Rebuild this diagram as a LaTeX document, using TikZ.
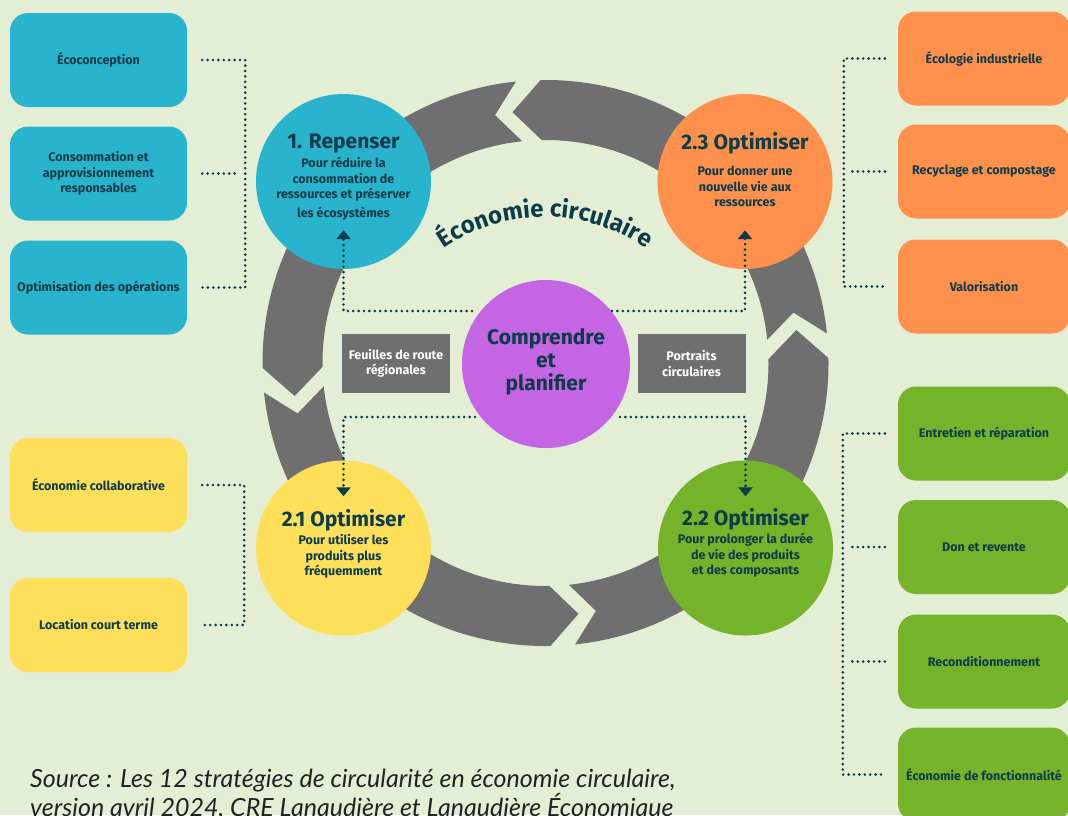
\documentclass[tikz,border=0pt]{standalone}
\usepackage{fontspec}
\setmainfont{Fira Sans}
\newfontfamily\srcfont{Lato}
\usetikzlibrary{arrows.meta,calc,decorations.text}
\definecolor{bg}{HTML}{E4EED4}
\definecolor{dark}{HTML}{0C3B49}
\definecolor{cblue}{HTML}{29B4CE}
\definecolor{corange}{HTML}{FF914D}
\definecolor{cyellow}{HTML}{FFDE59}
\definecolor{cgreen}{HTML}{74B32A}
\definecolor{cpurple}{HTML}{C466E3}
\definecolor{cgray}{HTML}{6F6F6F}
\definecolor{srccol}{HTML}{222222}
\newcommand\smalltxt{\fontsize{12.5}{15.5}\selectfont\bfseries}
\newcommand\titlefont{\fontsize{21}{23}\selectfont\bfseries}
\tikzset{
  bx/.style={rounded corners=18pt, minimum width=177pt, minimum height=94pt, inner sep=2pt, align=center, text=dark, font=\smalltxt},
  rbx/.style={bx, minimum width=172pt},
  circ/.style={circle, minimum size=175pt, inner sep=0pt},
  dotline/.style={draw=dark, line width=2.9pt, line cap=round, dash pattern=on 0pt off 5.4pt},
  arr/.style={-{Triangle[width=14pt,length=9pt]}},
  gbox/.style={fill=cgray, minimum width=108pt, minimum height=59pt, inner sep=1pt, text=white, align=center, font=\smalltxt},
  ttl/.style={font=\titlefont, text=dark, anchor=base, inner sep=0pt},
  subt/.style={font=\smalltxt, text=dark, align=center, inner sep=0pt},
}
\begin{document}
\begin{tikzpicture}[x=1pt,y=1pt]
\useasboundingbox (0,0) rectangle (1068,-815);
\clip (0,0) rectangle (1068,-815);
\fill[bg] (0,0) rectangle (1068,-815);

% ring
\coordinate (C) at (545.5,-363);
\foreach \a in {7.5,97.5,187.5,277.5}{
  \fill[cgray] ($(C)+({\a-1.5}:283)$) arc[start angle={\a-1.5}, end angle={\a+83.5}, radius=283]
    -- ($(C)+({\a+90}:253)$) -- ($(C)+({\a+83.5}:223)$)
    arc[start angle={\a+83.5}, end angle={\a-1.5}, radius=223]
    -- ($(C)+({\a+4}:253)$) -- cycle;
}

% curved title
\path[decorate, decoration={text along path, text align=center,
  text={|\color{dark}\fontsize{24}{24}\selectfont\bfseries|Économie circulaire}}]
  ($(545,-397)+(128:180)$) arc[start angle=128, end angle=52, radius=180];

% side boxes
\node[bx, fill=cblue] (b1) at (98.5,-60) {Écoconception};
\node[bx, fill=cblue] (b2) at (98.5,-173.5) {Consommation et\\approvisionnement\\responsables};
\node[bx, fill=cblue] (b3) at (98.5,-287.5) {Optimisation des opérations};
\node[bx, fill=cyellow] (y1) at (98.5,-485) {Économie collaborative};
\node[bx, fill=cyellow] (y2) at (98.5,-625) {Location court terme};
\node[rbx, fill=corange] (o1) at (984,-58.5) {Écologie industrielle};
\node[rbx, fill=corange] (o2) at (984,-171.5) {Recyclage et compostage};
\node[rbx, fill=corange] (o3) at (984,-286.5) {Valorisation};
\node[rbx, fill=cgreen] (g1) at (984,-433.5) {Entretien et réparation};
\node[rbx, fill=cgreen] (g2) at (984,-547) {Don et revente};
\node[rbx, fill=cgreen] (g3) at (984,-661.5) {Reconditionnement};
\node[rbx, fill=cgreen] (g4) at (984,-774.5) {Économie de fonctionnalité};

% brackets
\draw[dotline] ([xshift=15pt]b1.east) -| ([xshift=58pt]b3.east) -- ([xshift=15pt]b3.east);
\draw[dotline] ([xshift=15pt]b2.east) -- ([xshift=48pt]b2.east);
\draw[dotline] ([xshift=15pt]y1.east) -| ([xshift=57pt]y2.east) -- ([xshift=15pt]y2.east);
\draw[dotline] ([xshift=-13pt]o1.west) -| ([xshift=-54pt]o3.west) -- ([xshift=-13pt]o3.west);
\draw[dotline] ([xshift=-13pt]o2.west) -- ([xshift=-46pt]o2.west);
\draw[dotline] ([xshift=-13pt]g1.west) -| ([xshift=-55pt]g4.west) -- ([xshift=-13pt]g4.west);
\draw[dotline] ([xshift=-13pt]g2.west) -- ([xshift=-47pt]g2.west);
\draw[dotline] ([xshift=-13pt]g3.west) -- ([xshift=-47pt]g3.west);

% circles
\node[circ, fill=cblue] (rep) at (343.5,-181.5) {};
\node[circ, fill=corange] (o23) at (745,-181.5) {};
\node[circ, fill=cyellow] (c21) at (343.5,-548) {};
\node[circ, fill=cgreen] (c22) at (745.5,-548) {};
\node[circle, minimum size=168pt, inner sep=0pt, fill=cpurple] (cp) at (546,-364) {};

% gray boxes
\node[gbox] (fr) at (396,-363.5) {Feuilles de route\\régionales};
\node[gbox] (pc) at (691.5,-363.5) {Portraits\\circulaires};

% circle texts
\node[ttl] at (343.5,-148) {1. Repenser};
\node[subt] at (343.5,-188.5) {Pour réduire la\\consommation de\\ressources et préserver\\[3pt]les écosystèmes};
\node[ttl] at (745,-149) {2.3 Optimiser};
\node[subt] at (745,-186.5) {Pour donner une\\nouvelle vie aux\\ressources};
\node[ttl] at (343.5,-526) {2.1 Optimiser};
\node[subt] at (343.5,-556.5) {Pour utiliser les\\produits plus\\fréquemment};
\node[ttl] at (745.5,-525) {2.2 Optimiser};
\node[subt] at (745.5,-555.5) {Pour prolonger la durée\\de vie des produits\\et des composants};
\node[font=\titlefont, text=dark, align=center, inner sep=0pt] at (546,-362) {Comprendre\\et\\planifier};

% center connectors
\coordinate (pTL) at ($(cp)+(-74,53)$);
\coordinate (pTR) at ($(cp)+(66,53)$);
\coordinate (pBL) at ($(cp)+(-71,-53)$);
\coordinate (pBR) at ($(cp)+(74,-53)$);
\draw[dotline, arr] (pTL) -| ([yshift=39pt]rep.south);
\draw[dotline, arr] (pTR) -| ([yshift=39pt]o23.south);
\draw[dotline, arr] (pBL) -| ([yshift=-36pt]c21.north);
\draw[dotline, arr] (pBR) -| ([yshift=-36pt]c22.north);

% source
\node[anchor=north west, inner sep=0pt, align=left, text=srccol,
  font=\srcfont\itshape\fontsize{25}{29}\selectfont] (src) at (30,-769)
  {Source : Les 12 stratégies de circularité en économie circulaire,\\version avril 2024, CRE Lanaudière et Lanaudière Économique};
\end{tikzpicture}
\end{document}
